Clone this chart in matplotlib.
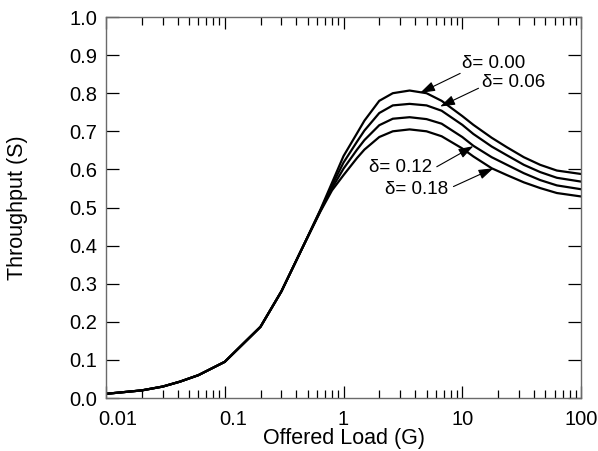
import numpy as np
import matplotlib.pyplot as plt
from matplotlib.transforms import ScaledTranslation

plt.rcParams['font.family'] = ['Liberation Sans', 'DejaVu Sans']

# offered load G (log axis) and throughput S
G = [0.01, 0.02, 0.03, 0.042, 0.06, 0.1, 0.2, 0.3, 0.46, 0.64, 0.8, 1.0, 1.3, 1.5,
     2.0, 2.6, 3.6, 5.0, 6.7, 10.0, 12.4, 17.7, 23.8, 33.0, 45.3, 62.6, 100.0]
S_000 = [0.011, 0.02, 0.03, 0.043, 0.06, 0.095, 0.187, 0.28, 0.40, 0.495, 0.565, 0.635, 0.695, 0.728,
         0.78, 0.80, 0.807, 0.80, 0.78, 0.74, 0.717, 0.683, 0.658, 0.632, 0.612, 0.597, 0.588]
S_006 = [0.011, 0.02, 0.03, 0.043, 0.06, 0.095, 0.187, 0.28, 0.40, 0.493, 0.558, 0.618, 0.673, 0.702,
         0.748, 0.768, 0.772, 0.768, 0.754, 0.717, 0.693, 0.66, 0.637, 0.612, 0.593, 0.578, 0.568]
S_012 = [0.011, 0.02, 0.03, 0.043, 0.06, 0.095, 0.187, 0.28, 0.40, 0.492, 0.551, 0.602, 0.652, 0.677,
         0.716, 0.733, 0.737, 0.732, 0.72, 0.685, 0.662, 0.632, 0.612, 0.59, 0.572, 0.558, 0.548]
S_018 = [0.011, 0.02, 0.03, 0.043, 0.06, 0.095, 0.187, 0.28, 0.40, 0.49, 0.545, 0.585, 0.63, 0.652,
         0.685, 0.70, 0.705, 0.70, 0.687, 0.655, 0.634, 0.603, 0.585, 0.566, 0.551, 0.538, 0.529]

labels = ['δ= 0.00', 'δ= 0.06', 'δ= 0.12', 'δ= 0.18']
# text pos, arrow tail, arrow tip (data coords)
label_pos = [(9.98, 0.877), (14.7, 0.827), (5.54, 0.604), (7.65, 0.546)]
arrow_tail = [(9.6, 0.852), (13.7, 0.813), (6.1, 0.607), (8.43, 0.555)]
arrow_tip = [(4.42, 0.801), (6.51, 0.765), (12.4, 0.661), (18.3, 0.603)]
label_ha = ['left', 'left', 'right', 'right']

fig = plt.figure(figsize=(5.98, 4.51), dpi=100)
ax = fig.add_axes([0.1773, 0.1175, 0.7943, 0.8448])

for s in [S_000, S_006, S_012, S_018]:
    ax.plot(G, s, color='black', lw=1.6, solid_joinstyle='round')

for lab, pos, tail, tip, ha in zip(labels, label_pos, arrow_tail, arrow_tip, label_ha):
    ax.text(pos[0], pos[1], lab, ha=ha, va='center', fontsize=13.5)
    ax.annotate('', xy=tip, xytext=tail,
                arrowprops=dict(arrowstyle='-|>,head_length=0.9,head_width=0.3',
                                color='black', lw=0.8, shrinkA=0, shrinkB=0))

ax.set_xscale('log')
ax.set_xlim(0.01, 100)
ax.set_ylim(0, 1.0)
ax.set_xticks([0.01, 0.1, 1, 10, 100])
ax.set_xticklabels(['0.01', '0.1', '1', '10', '100'])
ax.set_yticks(np.arange(0, 1.01, 0.1))
ax.set_yticklabels([f'{v:.1f}' for v in np.arange(0, 1.01, 0.1)])

ax.tick_params(which='both', direction='in', top=True, right=True,
               labelsize=14.5, color='black', width=0.9)
ax.tick_params(axis='x', which='major', length=8.5, pad=8.5)
ax.tick_params(axis='x', which='minor', length=5.5)
ax.tick_params(axis='y', which='major', length=9.5, pad=6.5)
for sp in ax.spines.values():
    sp.set_color('#6a6a6a')
    sp.set_linewidth(1.0)

# the two left labels sit a little right of their ticks in the original
offs = [12, 8]
for lbl, dx in zip(ax.get_xticklabels()[:2], offs):
    lbl.set_transform(lbl.get_transform() + ScaledTranslation(dx / 100, 0, fig.dpi_scale_trans))

ax.set_xlabel('Offered Load (G)', fontsize=15.5, va='center')
ax.set_ylabel('Throughput (S)', fontsize=15.5, va='center')
ax.xaxis.set_label_coords(0.5, -0.105)
ax.yaxis.set_label_coords(-0.186, 0.5)

fig.savefig('out.png', dpi=100)
